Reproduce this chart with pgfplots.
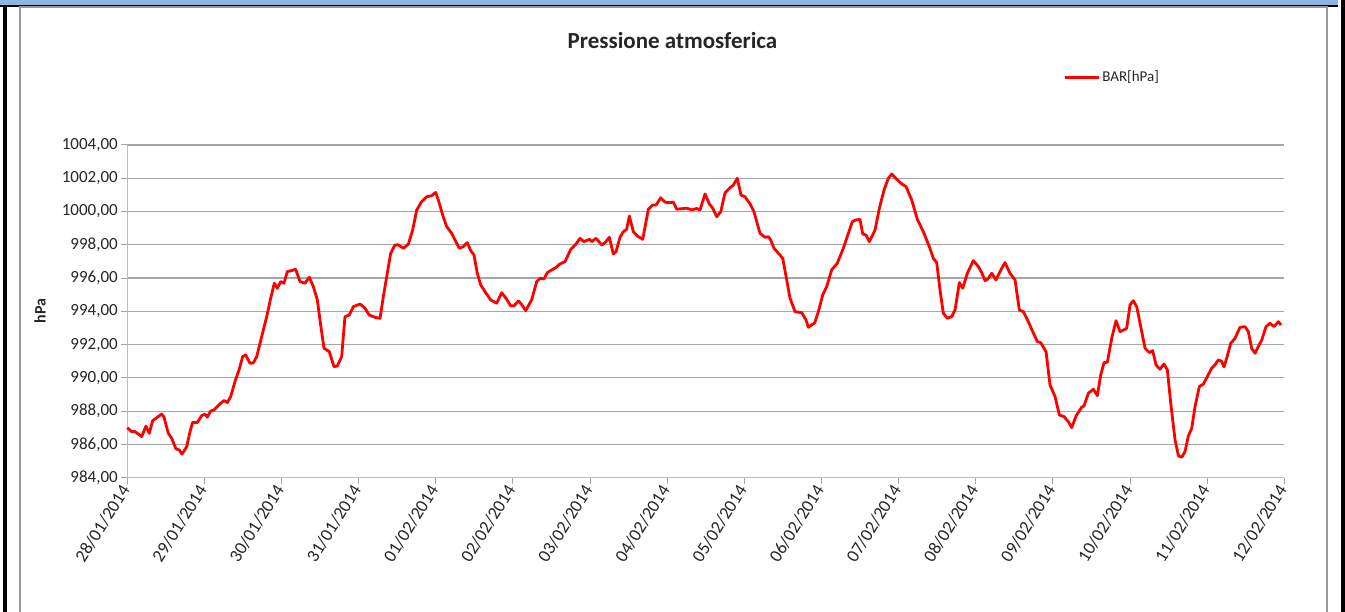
\documentclass[border=0pt]{standalone}
\usepackage{pgfplots}
\usepackage{pgfplotstable}
\pgfplotsset{compat=1.18}
\usepackage{fontspec}
\setmainfont{Carlito}

\definecolor{barblue}{HTML}{8DB4E2}
\definecolor{gridgray}{HTML}{A6A6A6}
\definecolor{axgray}{HTML}{BFBFBF}
\definecolor{txt}{HTML}{262626}

% x = position along the axis in units of 1/14 of its length (ticks every 14/15)
\pgfplotstableread{
x y
0 987.0
0.053 986.77
0.093 986.77
0.174 986.47
0.226 987.1
0.266 986.67
0.307 987.43
0.347 987.57
0.416 987.83
0.444 987.64
0.496 986.67
0.537 986.37
0.589 985.73
0.629 985.67
0.662 985.41
0.719 985.87
0.759 986.77
0.791 987.33
0.847 987.31
0.9 987.73
0.94 987.82
0.968 987.64
1.009 988.01
1.049 988.07
1.122 988.44
1.17 988.64
1.21 988.52
1.251 988.87
1.303 989.78
1.355 990.52
1.396 991.28
1.432 991.38
1.485 990.88
1.525 990.9
1.566 991.28
1.626 992.48
1.687 993.68
1.735 994.79
1.779 995.69
1.815 995.39
1.856 995.79
1.896 995.69
1.936 996.39
1.989 996.45
2.037 996.53
2.09 995.79
2.15 995.69
2.203 996.05
2.251 995.49
2.299 994.69
2.34 993.18
2.38 991.78
2.444 991.58
2.501 990.68
2.54 990.71
2.594 991.28
2.634 993.68
2.686 993.78
2.735 994.28
2.816 994.44
2.876 994.19
2.928 993.78
2.997 993.64
3.058 993.58
3.098 994.88
3.139 996.08
3.187 997.49
3.239 997.99
3.279 998.0
3.34 997.79
3.40 998.03
3.453 998.89
3.502 1000.09
3.562 1000.6
3.623 1000.89
3.683 1000.95
3.731 1001.15
3.764 1000.69
3.816 999.79
3.865 999.09
3.925 998.69
3.965 998.29
4.018 997.79
4.066 997.89
4.114 998.13
4.155 997.65
4.195 997.39
4.235 996.29
4.276 995.59
4.341 995.09
4.397 994.69
4.47 994.49
4.53 995.12
4.582 994.79
4.639 994.33
4.68 994.33
4.732 994.63
4.773 994.4
4.821 994.04
4.893 994.69
4.954 995.79
4.994 995.99
5.042 995.95
5.083 996.33
5.135 996.49
5.187 996.63
5.228 996.83
5.297 996.99
5.325 997.29
5.366 997.73
5.43 998.05
5.478 998.39
5.526 998.19
5.591 998.33
5.619 998.19
5.672 998.39
5.741 997.99
5.781 998.13
5.833 998.45
5.881 997.45
5.914 997.59
5.962 998.45
6.002 998.79
6.042 998.93
6.075 999.73
6.123 998.79
6.171 998.53
6.237 998.33
6.305 1000.14
6.357 1000.39
6.398 1000.39
6.455 1000.83
6.507 1000.56
6.567 1000.53
6.607 1000.57
6.648 1000.14
6.769 1000.2
6.83 1000.1
6.89 1000.18
6.93 1000.1
6.991 1001.06
7.043 1000.46
7.084 1000.2
7.132 999.69
7.181 999.99
7.233 1001.13
7.285 1001.39
7.333 1001.59
7.381 1002.0
7.426 1000.99
7.474 1000.89
7.535 1000.46
7.583 999.99
7.656 998.69
7.716 998.45
7.756 998.49
7.785 998.29
7.825 997.79
7.886 997.45
7.931 997.19
7.979 995.89
8.019 994.79
8.08 993.98
8.161 993.92
8.213 993.48
8.241 993.04
8.294 993.23
8.318 993.31
8.362 993.98
8.415 994.99
8.463 995.49
8.523 996.49
8.591 996.89
8.664 997.79
8.725 998.69
8.773 999.39
8.813 999.49
8.866 999.53
8.899 998.65
8.939 998.59
8.979 998.19
9.048 998.89
9.1 1000.19
9.157 1001.3
9.209 1002.0
9.25 1002.26
9.31 1001.94
9.371 1001.66
9.423 1001.5
9.492 1000.69
9.56 999.53
9.632 998.79
9.705 997.89
9.753 997.19
9.794 996.93
9.834 995.29
9.874 993.89
9.923 993.58
9.976 993.68
10.016 994.08
10.068 995.73
10.109 995.39
10.165 996.29
10.237 997.05
10.298 996.69
10.338 996.33
10.379 995.85
10.41 995.93
10.46 996.29
10.511 995.89
10.56 996.39
10.62 996.93
10.681 996.29
10.742 995.89
10.794 994.08
10.842 993.98
10.903 993.38
10.956 992.78
11.012 992.18
11.052 992.12
11.117 991.58
11.165 989.58
11.226 988.88
11.278 987.77
11.335 987.67
11.387 987.37
11.428 987.01
11.48 987.71
11.549 988.24
11.577 988.32
11.629 989.08
11.69 989.32
11.738 988.93
11.779 990.18
11.819 990.92
11.859 990.94
11.912 992.38
11.964 993.44
12.012 992.78
12.073 992.92
12.093 992.98
12.133 994.38
12.173 994.64
12.214 994.28
12.263 993.08
12.315 991.78
12.367 991.52
12.407 991.64
12.448 990.78
12.496 990.52
12.544 990.84
12.585 990.48
12.626 988.48
12.678 986.27
12.719 985.31
12.759 985.23
12.799 985.57
12.839 986.51
12.88 986.97
12.92 988.27
12.972 989.48
13.02 989.62
13.069 990.08
13.121 990.58
13.161 990.78
13.202 991.08
13.24 991.0
13.271 990.66
13.303 991.18
13.352 992.08
13.404 992.38
13.464 993.04
13.525 993.08
13.565 992.78
13.605 991.78
13.646 991.48
13.686 991.88
13.727 992.28
13.779 993.08
13.828 993.28
13.876 993.08
13.928 993.38
13.96 993.18
}\bardata

\begin{document}
\begin{tikzpicture}[x=1pt,y=1pt]
  \path[use as bounding box] (0,0) rectangle (1345,612);
  \fill[white] (0,0) rectangle (1345,612);
  % frame of the page around the chart
  \fill[barblue] (0,607) rectangle (1338,612);
  \fill[black] (0,604.5) rectangle (1338,607);
  \fill[black] (3,0) rectangle (7,607);
  \fill[black] (1341,0) rectangle (1345,612);
  \draw[gray!80, line width=1.2pt] (20,-2) -- (20,605) -- (1327,605) -- (1327,-2);

  \begin{axis}[
      at={(127.3pt,134.3pt)}, anchor=south west,
      width=1157pt, height=332.7pt, scale only axis,
      xmin=0, xmax=14, ymin=984, ymax=1004,
      ytick={984,986,...,1004},
      xtick={0,0.93333,1.86667,2.8,3.73333,4.66667,5.6,6.53333,7.46667,8.4,9.33333,10.26667,11.2,12.13333,13.06667,14},
      xticklabels={28/01/2014,29/01/2014,30/01/2014,31/01/2014,01/02/2014,02/02/2014,03/02/2014,04/02/2014,05/02/2014,06/02/2014,07/02/2014,08/02/2014,09/02/2014,10/02/2014,11/02/2014,12/02/2014},
      axis x line*=bottom, axis y line*=left,
      axis line style={draw=axgray, line width=1.5pt, -},
      ymajorgrids, grid style={draw=gridgray, line width=1.2pt},
      tick align=outside, major tick length=6pt,
      tick style={draw=gridgray, line width=1pt},
      /pgf/number format/assume math mode=true,
      yticklabel style={font=\fontsize{17}{20}\selectfont, text=txt,
        /pgf/number format/.cd, fixed, fixed zerofill, precision=2, use comma, 1000 sep={}},
      xticklabel style={font=\fontsize{18}{20}\selectfont, text=txt, rotate=58, anchor=east},
      legend style={at={(0.809,1.204)}, anchor=west, draw=none, fill=none,
        font=\fontsize{15}{18}\selectfont, text=txt, inner sep=0pt},
      legend image code/.code={\draw[#1] (0pt,0pt) -- (34pt,0pt);},
      clip=false,
    ]
    \addplot[red, line width=2.8pt, line join=round] table[x=x, y=y] {\bardata};
    \addlegendentry{BAR[hPa]}
  \end{axis}

  \node[font=\bfseries\fontsize{23}{26}\selectfont, text=txt] at (672.5,571) {Pressione atmosferica};
  \node[font=\bfseries\fontsize{16}{18}\selectfont, text=txt, rotate=90] at (40,301) {hPa};
\end{tikzpicture}
\end{document}
